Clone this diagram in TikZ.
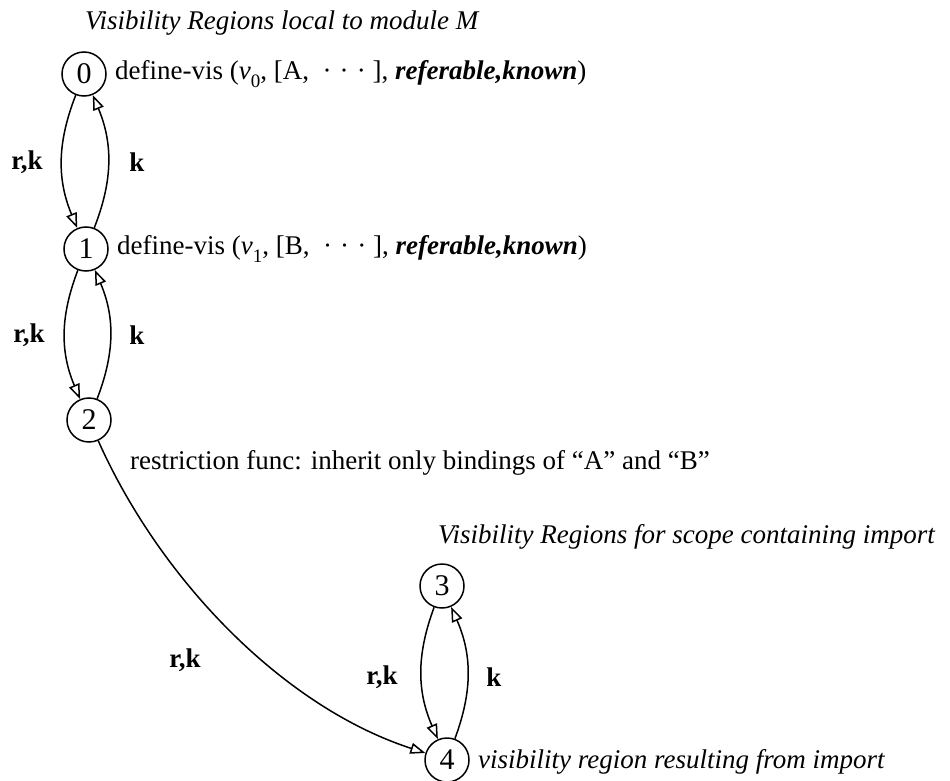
\documentclass[tikz,border=0pt]{standalone}
\usepackage{fontspec}
\setmainfont{Liberation Serif}
\usetikzlibrary{arrows.meta}
\begin{document}
\begin{tikzpicture}[x=1pt,y=-1pt,
  state/.style={circle,draw,line width=1.5pt,minimum size=44pt,inner sep=0pt,font=\fontsize{30}{32}\selectfont},
  lbl/.style={font=\fontsize{27}{30}\selectfont,inner sep=0pt},
  head/.style={font=\fontsize{27}{30}\selectfont\itshape,inner sep=0pt},
  elbl/.style={font=\fontsize{27}{30}\selectfont\bfseries,inner sep=0pt},
  edge/.style={line width=1.5pt,-{Triangle[open,length=15pt,width=11pt,line width=1.5pt]}}]
\useasboundingbox (0,0) rectangle (950,781);
\node[head,anchor=west] (h1) at (85,23) {Visibility Regions local to module M};
\node[state] (n0) at (84,74) {0};
\node[state] (n1) at (86,249) {1};
\node[state] (n2) at (89,420) {2};
\node[head,anchor=west] (h2) at (438,537) {Visibility Regions for scope containing import};
\node[state] (n3) at (442,586) {3};
\node[state] (n4) at (447,760) {4};
\node[lbl,anchor=west] (t0) at (115,74) {define-vis (\textit{ν}\raisebox{-0.3em}{\fontsize{19}{20}\selectfont 0}, [A, \ ·\hspace{0.3em}·\hspace{0.3em}·\ ], \textbf{\textit{referable,known}})};
\node[lbl,anchor=west] (t1) at (117,249) {define-vis (\textit{ν}\raisebox{-0.3em}{\fontsize{19}{20}\selectfont 1}, [B, \ ·\hspace{0.3em}·\hspace{0.3em}·\ ], \textbf{\textit{referable,known}})};
\node[lbl,anchor=west] (t2) at (130,463) {restriction func: inherit only bindings of ``A'' and ``B''};
\node[head,anchor=west] (t4) at (478,762) {visibility region resulting from import};
\node[elbl] (l01a) at (27,162) {r,k};
\node[elbl] (l01b) at (137,162) {k};
\node[elbl] (l12a) at (29,335) {r,k};
\node[elbl] (l12b) at (137,335) {k};
\node[elbl] (l24) at (185,660) {r,k};
\node[elbl] (l34a) at (382,677) {r,k};
\node[elbl] (l34b) at (494,677) {k};
\draw[edge] (n0) to[bend right=22] (n1);
\draw[edge] (n1) to[bend right=22] (n0);
\draw[edge] (n1) to[bend right=22] (n2);
\draw[edge] (n2) to[bend right=22] (n1);
\draw[edge] (n3) to[bend right=22] (n4);
\draw[edge] (n4) to[bend right=22] (n3);
\draw[edge] (n2) to[out=-66,in=162,looseness=0.85] (n4);
\end{tikzpicture}
\end{document}
